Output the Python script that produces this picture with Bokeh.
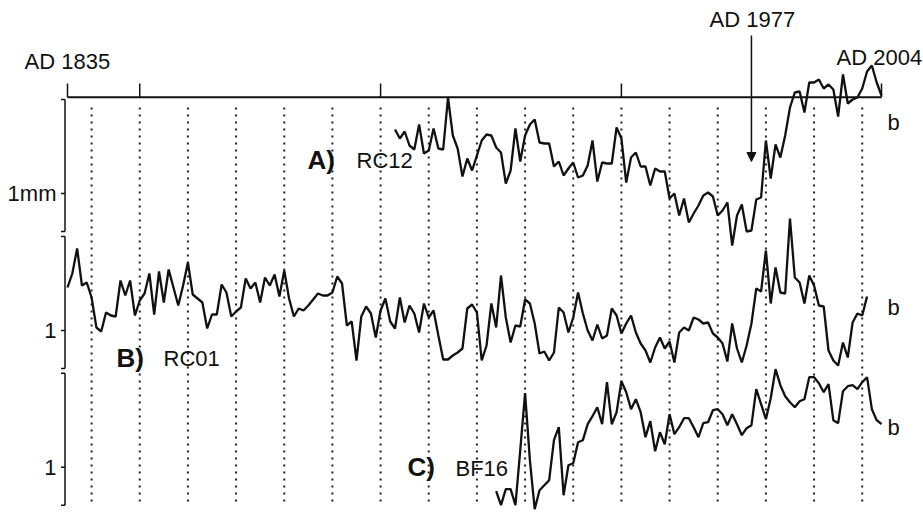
from bokeh.plotting import figure
from bokeh.models import Range1d, Arrow, NormalHead
from bokeh.core.properties import value
from bokeh.embed import file_html
from bokeh.resources import INLINE

# ---------------- data (ring-width index) ----------------
years_A = list(range(1903, 2005))
ring_A = [1.64, 1.55, 1.62, 1.48, 1.44, 1.69, 1.40, 1.43, 1.65, 1.45,
          1.44, 1.96, 1.58, 1.45, 1.17, 1.35, 1.23, 1.38, 1.53, 1.59,
          1.58, 1.46, 1.41, 1.10, 1.23, 1.65, 1.32, 1.58, 1.69, 1.74,
          1.51, 1.50, 1.50, 1.27, 1.32, 1.18, 1.25, 1.31, 1.16, 1.18,
          1.28, 1.53, 1.12, 1.31, 1.30, 1.30, 1.66, 1.55, 1.11, 1.36,
          1.41, 1.27, 1.27, 1.08, 1.25, 1.22, 1.22, 0.95, 1.00, 0.78,
          0.95, 0.71, 0.80, 0.88, 0.98, 1.01, 0.97, 0.78, 0.83, 0.91,
          0.48, 0.78, 0.89, 0.62, 0.63, 0.94, 0.96, 1.53, 1.15, 1.49,
          1.36, 1.58, 1.86, 2.01, 2.02, 1.81, 2.11, 2.11, 2.14, 2.05,
          2.09, 2.04, 1.77, 2.19, 1.90, 1.94, 1.96, 2.05, 2.22, 2.28,
          2.11, 1.98]

years_B = list(range(1835, 2002))
ring_B = [1.43, 1.57, 1.82, 1.45, 1.48, 1.33, 1.03, 0.99, 1.18, 1.15,
          1.14, 1.50, 1.35, 1.50, 1.15, 1.30, 1.37, 1.57, 1.16, 1.59,
          1.28, 1.61, 1.43, 1.25, 1.45, 1.68, 1.36, 1.32, 1.28, 1.02,
          1.16, 1.16, 1.46, 1.38, 1.14, 1.19, 1.23, 1.52, 1.42, 1.48,
          1.28, 1.53, 1.45, 1.56, 1.34, 1.60, 1.32, 1.14, 1.22, 1.20,
          1.25, 1.31, 1.37, 1.35, 1.35, 1.38, 1.54, 1.47, 1.05, 1.09,
          0.70, 1.14, 1.24, 1.17, 0.93, 1.20, 1.32, 1.09, 1.02, 1.33,
          1.08, 1.25, 1.17, 0.98, 1.27, 1.13, 1.20, 0.95, 0.71, 0.71,
          0.75, 0.78, 0.82, 1.22, 1.26, 1.18, 0.70, 0.85, 1.27, 1.03,
          1.55, 1.13, 0.88, 1.05, 1.04, 1.31, 1.27, 1.07, 0.77, 0.79,
          0.70, 0.78, 1.23, 1.18, 0.98, 1.13, 1.38, 1.17, 1.00, 0.90,
          1.06, 0.92, 0.95, 1.22, 1.15, 0.97, 1.07, 1.15, 0.98, 0.87,
          0.80, 0.68, 0.83, 0.93, 0.82, 0.89, 0.68, 0.98, 1.03, 1.00,
          1.13, 1.11, 1.07, 1.08, 0.97, 0.93, 0.87, 0.69, 1.07, 0.82,
          0.68, 0.85, 1.07, 1.42, 1.39, 1.80, 1.27, 1.63, 1.38, 1.37,
          2.12, 1.53, 1.48, 1.27, 1.55, 1.45, 1.25, 1.24, 0.80, 0.70,
          0.65, 0.88, 0.73, 1.08, 1.17, 1.15, 1.34]

years_C = list(range(1924, 2005))
ring_C = [0.76, 0.62, 0.78, 0.78, 0.62, 1.17, 1.74, 1.07, 0.58, 0.77,
          0.82, 0.87, 1.27, 1.40, 0.72, 1.02, 1.04, 1.25, 1.27, 1.43,
          1.51, 1.60, 1.43, 1.85, 1.43, 1.55, 1.86, 1.75, 1.58, 1.68,
          1.55, 1.30, 1.46, 1.16, 1.35, 1.23, 1.53, 1.33, 1.40, 1.49,
          1.49, 1.40, 1.30, 1.44, 1.45, 1.57, 1.58, 1.53, 1.42, 1.53,
          1.43, 1.32, 1.39, 1.42, 1.78, 1.63, 1.48, 1.69, 1.98, 1.82,
          1.71, 1.65, 1.60, 1.66, 1.68, 1.90, 1.90, 1.84, 1.75, 1.83,
          1.47, 1.44, 1.76, 1.81, 1.82, 1.78, 1.85, 1.90, 1.58, 1.47,
          1.43]

axis_ticks = [1835, 1850, 1900, 1950, 2004]
decade_lines = list(range(1840, 2001, 10))
panel_names = ["A", "B", "C"]
panel_ids = ["A)", "B)", "C)"]
panel_cores = ["RC12", "RC01", "BF16"]
panel_tick_labels = ["1mm", "1", "1"]
bracket_span = [0.62, 1.94]
event_year = 1977

# ---------------- layout helpers ----------------
W, H = 923, 512
PX_PER_YEAR = (881 - 67) / (2004 - 1835)
X0 = 1835 - 67 / PX_PER_YEAR


def xpx(px):
    return X0 + px / PX_PER_YEAR


UNIT_PX = 100.0          # pixels per unit of ring-width index
one_level_px = {"A": 193.0, "B": 330.0, "C": 466.7}

p = figure(width=W, height=H, x_range=Range1d(X0, X0 + W / PX_PER_YEAR),
           y_range=Range1d(H, 0), output_backend="svg", toolbar_location=None,
           x_axis_type=None, y_axis_type=None, min_border=0,
           outline_line_color=None, background_fill_color="white",
           border_fill_color="white")
p.xgrid.visible = False
p.ygrid.visible = False

p.extra_y_ranges = {
    k: Range1d(1 - (H - v) / UNIT_PX, 1 + v / UNIT_PX) for k, v in one_level_px.items()
}

FONT = value("Liberation Sans")
INK = "#111111"
FS = "22px"

# dotted decade lines
n = len(decade_lines)
p.segment(x0=decade_lines, y0=[107] * n, x1=decade_lines, y1=[502] * n,
          line_color="#222222", line_width=2, line_dash="2 5")

# top time axis
p.segment(x0=[1835], y0=[96.7], x1=[2004], y1=[96.7], line_color=INK, line_width=2)
m = len(axis_ticks)
p.segment(x0=axis_ticks, y0=[96.7] * m, x1=axis_ticks, y1=[83] * m,
          line_color=INK, line_width=1.5)

# left brackets per panel
xb = xpx(64.5)
xc = xpx(60.5)
for name, tl in zip(panel_names, panel_tick_labels):
    lo, hi = bracket_span
    p.segment(x0=[xb], y0=[lo], x1=[xb], y1=[hi], y_range_name=name,
              line_color=INK, line_width=1.5)
    p.segment(x0=[xc, xc, xc], y0=[lo, hi, 1.0], x1=[xb, xb, xb], y1=[lo, hi, 1.0],
              y_range_name=name, line_color=INK, line_width=1.5)
    p.text(x=[xpx(56)], y=[1.0], text=[tl], y_range_name=name,
           text_align="right", text_baseline="middle", text_font=FONT,
           text_font_size=FS, text_color=INK)

# series
for name, xs, ys in (("A", years_A, ring_A), ("B", years_B, ring_B), ("C", years_C, ring_C)):
    p.line(xs, ys, y_range_name=name, line_color=INK, line_width=2.3)

# panel labels
id_pos = [(307, 159), (116, 357), (407, 466)]
core_pos = [(356, 160), (163, 358), (455, 468)]
for pid, core, (ix, iy), (cx, cy) in zip(panel_ids, panel_cores, id_pos, core_pos):
    p.text(x=[xpx(ix)], y=[iy], text=[pid], text_align="left", text_baseline="middle",
           text_font=FONT, text_font_size="26px", text_font_style="bold", text_color=INK)
    p.text(x=[xpx(cx)], y=[cy], text=[core], text_align="left", text_baseline="middle",
           text_font=FONT, text_font_size=FS, text_color=INK)

# "b" labels at right
p.text(x=[xpx(887)] * 3, y=[122, 306.7, 426.7], text=["b", "b", "b"], text_align="left",
       text_baseline="middle", text_font=FONT, text_font_size=FS, text_color=INK)

# date labels
p.text(x=[xpx(24), xpx(836), xpx(709)], y=[61, 57, 19],
       text=["AD 1835", "AD 2004", "AD 1977"], text_align="left",
       text_baseline="middle", text_font=FONT, text_font_size=FS, text_color=INK)

# arrow at AD 1977
p.add_layout(Arrow(end=NormalHead(size=9, fill_color=INK, line_color=INK),
                   x_start=event_year, y_start=35, x_end=event_year, y_end=161,
                   line_color=INK, line_width=1.5))

open("out.html", "w").write(file_html(p, INLINE))
